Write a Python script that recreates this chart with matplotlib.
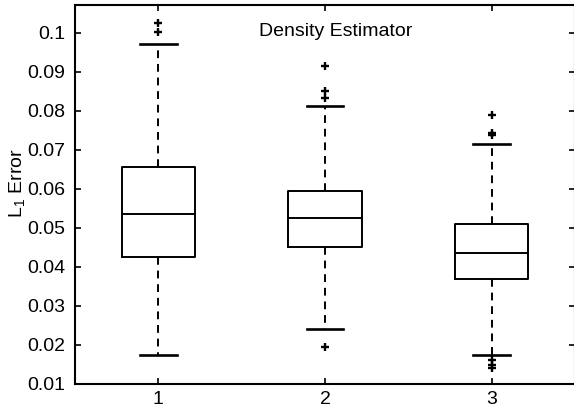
import matplotlib
matplotlib.use("Agg")
import matplotlib.pyplot as plt

plt.rcParams['font.family'] = ['Liberation Sans', 'DejaVu Sans']

# Box statistics for each estimator group
groups = [1, 2, 3]
q1 = [0.0425, 0.0450, 0.0370]
med = [0.0535, 0.0525, 0.0435]
q3 = [0.0655, 0.0595, 0.0510]
whisker_lo = [0.0175, 0.0240, 0.0175]
whisker_hi = [0.0972, 0.0812, 0.0715]
outliers = [
    [0.1002, 0.1025],
    [0.0195, 0.0832, 0.0850, 0.0915],
    [0.0141, 0.0149, 0.0161, 0.0737, 0.0744, 0.0788],
]

y_ticks = [0.01, 0.02, 0.03, 0.04, 0.05, 0.06, 0.07, 0.08, 0.09, 0.1]
y_tick_labels = ['0.01', '0.02', '0.03', '0.04', '0.05', '0.06', '0.07', '0.08', '0.09', '0.1']

fig = plt.figure(figsize=(5.74, 4.11), dpi=100)
ax = fig.add_axes([0.1307, 0.0657, 0.8710, 0.9233])

stats = []
for i in range(len(groups)):
    stats.append(dict(med=med[i], q1=q1[i], q3=q3[i],
                      whislo=whisker_lo[i], whishi=whisker_hi[i],
                      fliers=outliers[i]))

ax.bxp(stats, positions=groups, widths=0.44,
       boxprops=dict(color='black', linewidth=1.4),
       medianprops=dict(color='black', linewidth=1.4),
       whiskerprops=dict(color='black', linewidth=1.4, linestyle=(0, (4, 3))),
       capprops=dict(color='black', linewidth=1.9),
       flierprops=dict(marker='+', markeredgecolor='black', markersize=5.5,
                       markeredgewidth=1.7, linestyle='none'),
       capwidths=0.22)

ax.set_xlim(0.5, 3.5)
ax.set_ylim(0.01, 0.1072)
ax.set_xticks(groups)
ax.set_xticklabels([str(g) for g in groups])
ax.set_yticks(y_ticks)
ax.set_yticklabels(y_tick_labels)
ax.tick_params(direction='in', top=True, right=True, labelsize=14,
               length=4, width=1.2, colors='black')
ax.tick_params(axis='y', pad=7)
ax.tick_params(axis='x', pad=5)
for s in ax.spines.values():
    s.set_linewidth(1.5)

ax.set_ylabel(r'L$_{\mathregular{1}}$ Error', fontsize=14)
ax.yaxis.set_label_coords(-0.095, 0.53)
ax.text(0.521, 0.918, 'Density Estimator', transform=ax.transAxes,
        ha='center', va='baseline', fontsize=14)

fig.savefig('out.png', dpi=100)
